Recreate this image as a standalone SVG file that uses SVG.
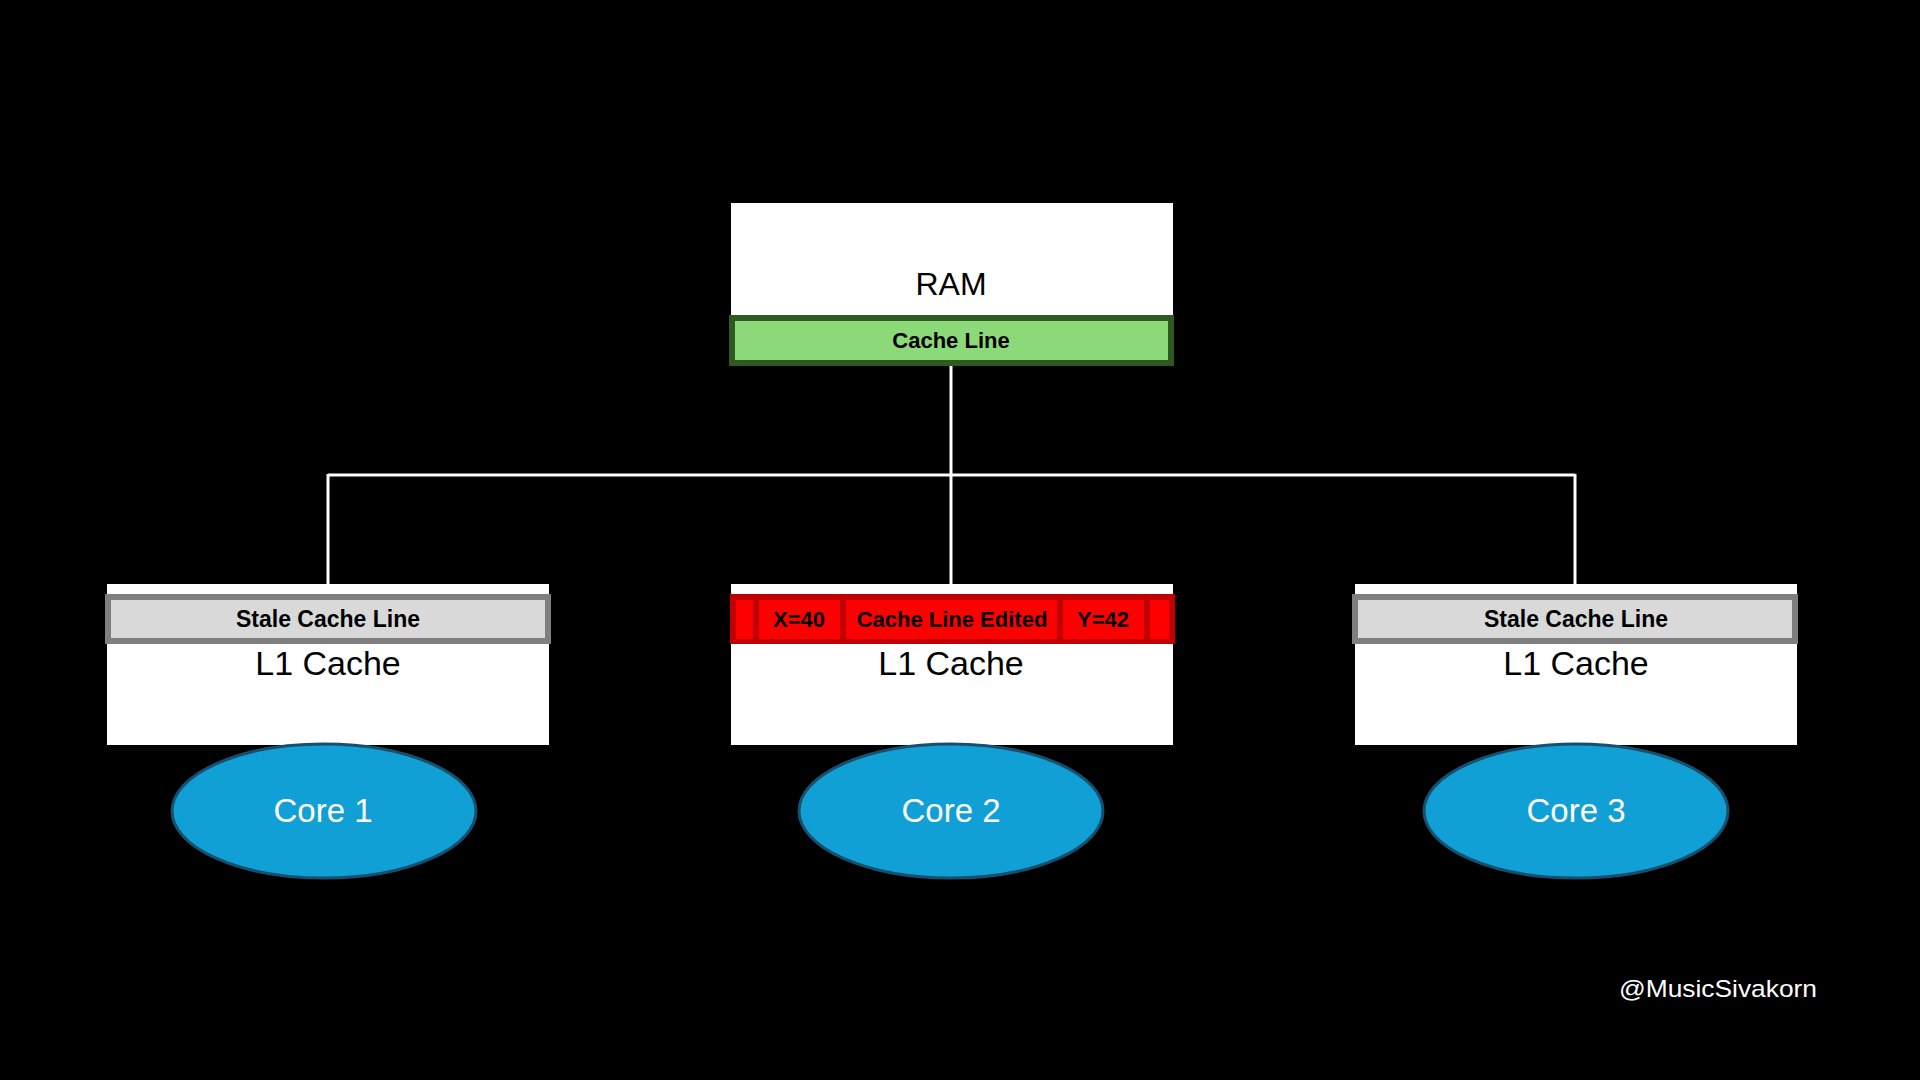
<svg xmlns="http://www.w3.org/2000/svg" width="1920" height="1080" viewBox="0 0 1920 1080">
<style>
.box{fill:#FFFFFF}
.big{font-family:"Liberation Sans",Arial,sans-serif;font-size:34px;fill:#000000;text-anchor:middle}
.ram{font-family:"Liberation Sans",Arial,sans-serif;font-size:32px;fill:#000000;text-anchor:middle}
.band{font-family:"Liberation Sans",Arial,sans-serif;font-size:22px;font-weight:bold;fill:#000000;text-anchor:middle}
.stalet{font-family:"Liberation Sans",Arial,sans-serif;font-size:23px;font-weight:bold;fill:#000000;text-anchor:middle}
.stale{fill:#D9D9D9;stroke:#7F7F7F;stroke-width:6}
.core{fill:#10A0D6;stroke:#17506E;stroke-width:3}
.coret{font-family:"Liberation Sans",Arial,sans-serif;font-size:33px;fill:#FFFFFF;text-anchor:middle}
.wire{stroke:#FFFFFF;stroke-width:3;fill:none}
</style>
<rect x="0" y="0" width="1920" height="1080" fill="#000000"/>
<g id="connectors">
<line class="wire" x1="951" y1="366" x2="951" y2="584"/>
<line class="wire" x1="328" y1="475" x2="1575" y2="475"/>
<line class="wire" x1="328" y1="474" x2="328" y2="584"/>
<line class="wire" x1="1575" y1="474" x2="1575" y2="584"/>
</g>
<g id="ram">
<rect class="box" x="731" y="203" width="442" height="160"/>
<text class="ram" x="951" y="295">RAM</text>
<rect x="732" y="318" width="439" height="45" fill="#8CD97A" stroke="#2E5A22" stroke-width="6"/>
<text class="band" x="951" y="348">Cache Line</text>
</g>
<g id="l1-1">
<rect class="box" x="107" y="584" width="442" height="161"/>
<rect class="stale" x="108" y="597" width="440" height="44"/>
<text class="stalet" x="328" y="627">Stale Cache Line</text>
<text class="big" x="328" y="675">L1 Cache</text>
</g>
<g id="l1-2">
<rect class="box" x="731" y="584" width="442" height="161"/>
<rect x="730" y="594" width="445" height="50" fill="#C00000"/>
<rect x="736" y="600" width="17" height="39" fill="#FF0000"/>
<rect x="759" y="600" width="81" height="39" fill="#FF0000"/>
<rect x="846" y="600" width="211" height="39" fill="#FF0000"/>
<rect x="1063" y="600" width="81" height="39" fill="#FF0000"/>
<rect x="1150" y="600" width="19" height="39" fill="#FF0000"/>
<text class="band" x="799" y="627">X=40</text>
<text class="band" x="952" y="627">Cache Line Edited</text>
<text class="band" x="1103" y="627">Y=42</text>
<text class="big" x="951" y="675">L1 Cache</text>
</g>
<g id="l1-3">
<rect class="box" x="1355" y="584" width="442" height="161"/>
<rect class="stale" x="1355" y="597" width="440" height="44"/>
<text class="stalet" x="1576" y="627">Stale Cache Line</text>
<text class="big" x="1576" y="675">L1 Cache</text>
</g>
<g id="core-1">
<ellipse class="core" cx="324" cy="811" rx="152" ry="67"/>
<text class="coret" x="323" y="822">Core 1</text>
</g>
<g id="core-2">
<ellipse class="core" cx="951" cy="811" rx="152" ry="67"/>
<text class="coret" x="951" y="822">Core 2</text>
</g>
<g id="core-3">
<ellipse class="core" cx="1576" cy="811" rx="152" ry="67"/>
<text class="coret" x="1576" y="822">Core 3</text>
</g>
<text x="1619" y="997" font-family="'Liberation Sans',Arial,sans-serif" font-size="24" fill="#FFFFFF" textLength="198" lengthAdjust="spacingAndGlyphs">@MusicSivakorn</text>
</svg>
